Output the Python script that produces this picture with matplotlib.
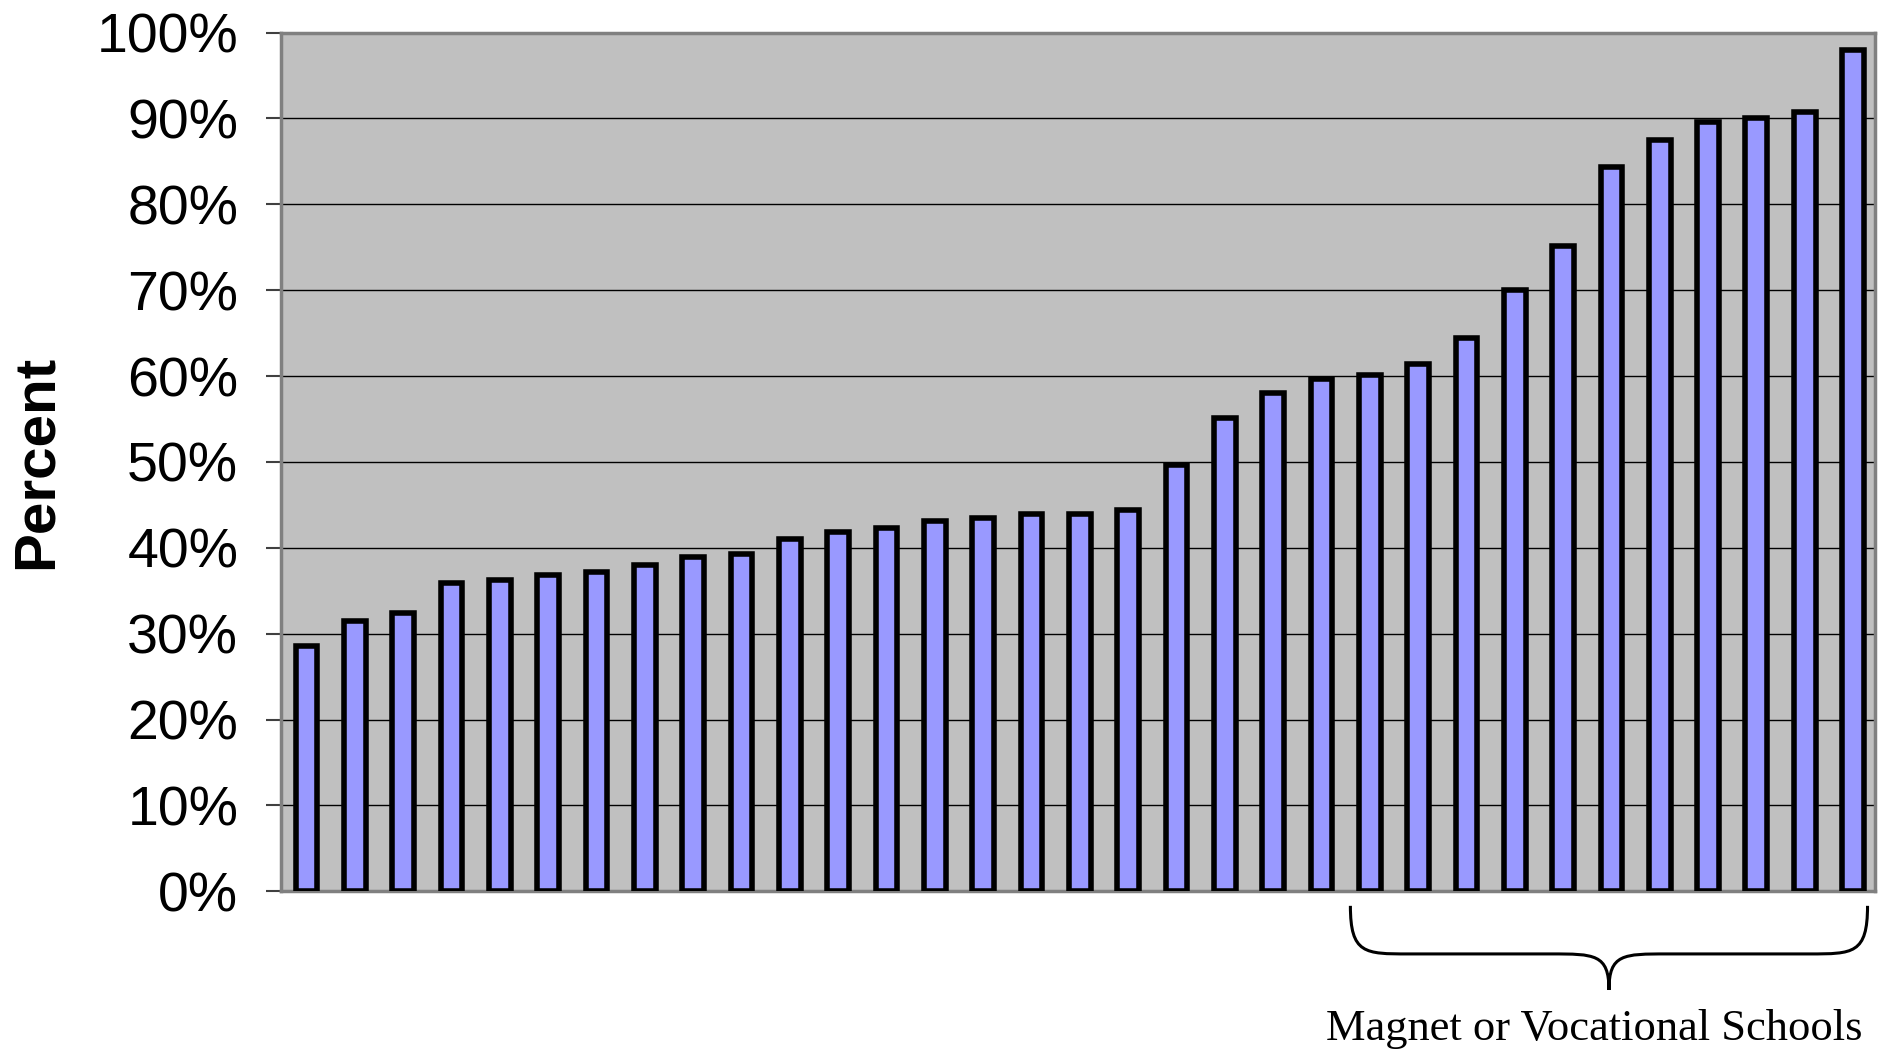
import numpy as np
import matplotlib
matplotlib.use("Agg")
import matplotlib.pyplot as plt
from matplotlib.path import Path
from matplotlib.patches import PathPatch
import matplotlib.transforms as mtransforms
from matplotlib.ticker import FuncFormatter

# share of students, one bar per school, sorted ascending
percent = [28.6, 31.5, 32.4, 35.9, 36.3, 36.8, 37.2, 38.0, 38.9, 39.3,
           41.0, 41.8, 42.3, 43.1, 43.5, 43.9, 43.9, 44.4, 49.6, 55.1,
           58.0, 59.7, 60.1, 61.4, 64.4, 70.0, 75.1, 84.4, 87.5, 89.6,
           90.0, 90.8, 98.0]
y_ticks = list(range(0, 101, 10))
brace_label = "Magnet or Vocational Schools"
brace_first, brace_last = 22, 32   # schools covered by the brace

plt.rcParams['font.family'] = ['Liberation Sans', 'DejaVu Sans']

fig = plt.figure(figsize=(18.88, 10.51), dpi=100)
ax = fig.add_axes([0.149, 0.152, 0.844, 0.817])

x = np.arange(len(percent))
ax.bar(x, percent, width=0.45, color='#9999FF', edgecolor='black',
       linewidth=4, zorder=3)

ax.set_facecolor('#C0C0C0')
ax.set_xlim(-0.52, len(percent) - 0.55)
ax.set_ylim(0, 100)
ax.set_yticks(y_ticks)
ax.yaxis.set_major_formatter(FuncFormatter(lambda v, pos: '%d%%' % v))
ax.tick_params(axis='y', labelsize=40, length=11, width=1.5,
               color='#404040', pad=20)
ax.set_xticks([])
ax.grid(axis='y', color='black', linewidth=1.0, zorder=1)
for s in ax.spines.values():
    s.set_color('#808080')
    s.set_linewidth(2.5)

ax.set_ylabel('Percent', fontsize=42, fontweight='bold', labelpad=24)

# curly brace under the magnet / vocational bars
trans = mtransforms.blended_transform_factory(ax.transData, ax.transAxes)
x0 = brace_first - 0.4
x1 = brace_last + 0.3
xm = (x0 + x1) / 2
yt, ymid, ytip = -0.017, -0.073, -0.115
r = 1.2
verts = [
    (x0, yt), (x0, ymid), (x0 + 0.3, ymid), (x0 + r, ymid),
    (xm - r, ymid),
    (xm - 0.3, ymid), (xm, ymid), (xm, ytip),
    (xm, ymid), (xm + 0.3, ymid), (xm + r, ymid),
    (x1 - r, ymid),
    (x1 - 0.3, ymid), (x1, ymid), (x1, yt),
]
codes = [Path.MOVETO, Path.CURVE4, Path.CURVE4, Path.CURVE4,
         Path.LINETO,
         Path.CURVE4, Path.CURVE4, Path.CURVE4,
         Path.CURVE4, Path.CURVE4, Path.CURVE4,
         Path.LINETO,
         Path.CURVE4, Path.CURVE4, Path.CURVE4]
ax.add_patch(PathPatch(Path(verts, codes), transform=trans, fill=False,
                       lw=2.2, color='black', clip_on=False))
ax.text(xm - 0.3, -0.16, brace_label, transform=trans, ha='center',
        va='center', fontsize=32, family=['Liberation Serif', 'DejaVu Serif'])

fig.savefig('out.png', dpi=100)
